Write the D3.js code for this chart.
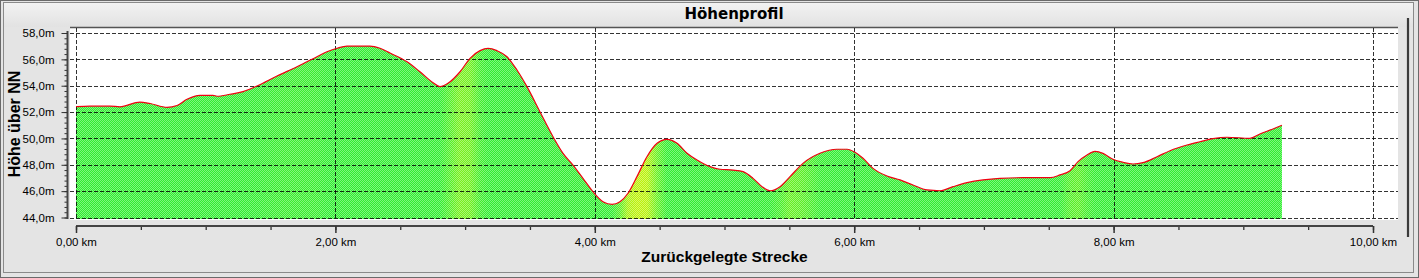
<!DOCTYPE html>
<html><head><meta charset="utf-8">
<script src="https://cdn.jsdelivr.net/npm/d3@7"></script>
<style>
html,body{margin:0;padding:0;background:#e4e4e4;}
svg{display:block;}
</style></head>
<body>
<svg id="chart" width="1419" height="278"></svg>
<script>
// ---- data (distance in km, elevation in m) ----
const distanceKm = [0.00,0.108,0.262,0.339,0.493,0.571,0.702,0.779,0.856,0.956,1.056,1.087,1.187,1.288,1.396,1.550,1.704,1.858,1.935,2.012,2.089,2.267,2.344,2.421,2.552,2.652,2.753,2.806,2.868,2.961,3.038,3.115,3.177,3.246,3.323,3.400,3.477,3.577,3.678,3.755,3.832,3.909,3.986,4.063,4.133,4.194,4.256,4.325,4.402,4.480,4.557,4.634,4.711,4.788,4.888,4.965,5.066,5.143,5.220,5.289,5.351,5.428,5.505,5.605,5.736,5.867,5.945,6.006,6.068,6.145,6.253,6.353,6.453,6.561,6.662,6.762,6.870,6.993,7.124,7.301,7.510,7.587,7.664,7.726,7.795,7.857,7.918,7.995,8.072,8.150,8.227,8.335,8.435,8.566,8.666,8.766,8.874,9.051,9.128,9.229,9.298];
const elevationM = [52.41,52.45,52.45,52.40,52.76,52.65,52.36,52.50,52.97,53.27,53.27,53.20,53.35,53.55,53.98,54.74,55.44,56.20,56.58,56.84,57.01,57.01,56.84,56.48,55.82,55.06,54.23,53.93,54.18,55.06,56.08,56.66,56.84,56.66,56.20,55.19,53.93,52.03,50.13,48.87,47.98,46.97,45.96,45.20,45.00,45.20,45.84,47.10,48.61,49.63,49.93,49.63,48.87,48.36,47.86,47.66,47.60,47.48,46.97,46.34,46.03,46.34,47.10,48.11,48.87,49.18,49.18,48.95,48.49,47.73,47.15,46.85,46.47,46.09,46.03,46.34,46.64,46.85,46.97,47.02,47.02,47.23,47.55,48.24,48.74,49.02,48.87,48.42,48.19,48.06,48.16,48.61,49.07,49.50,49.75,49.98,50.09,50.01,50.34,50.72,51.00];
const xTickValues = [0,2,4,6,8,10];
const xTickLabels = ["0,00 km","2,00 km","4,00 km","6,00 km","8,00 km","10,00 km"];
const yTickValues = [44,46,48,50,52,54,56,58];
const yTickLabels = ["44,0m","46,0m","48,0m","50,0m","52,0m","54,0m","56,0m","58,0m"];
const chartTitle = "Höhenprofil";
const xTitle = "Zurückgelegte Strecke";
const yTitle = "Höhe über NN";

const W = 1419, H = 278;
const svg = d3.select("#chart");
const data = distanceKm.map((d,i)=>({d, e: elevationM[i]}));

const frame = {l:70, t:28, r:1398, b:220};
const x = d3.scaleLinear().domain([0,10]).range([76,1373]);
const y = d3.scaleLinear().domain([44,58]).range([217.5,33]);

const defs = svg.append("defs");
const tg = defs.append("linearGradient").attr("id","tbar").attr("x1",0).attr("x2",0).attr("y1",0).attr("y2",1);
tg.append("stop").attr("offset","0%").attr("stop-color","#f2f2f2");
tg.append("stop").attr("offset","100%").attr("stop-color","#e2e2e2");

// background + borders
svg.append("rect").attr("x",0).attr("y",0).attr("width",W).attr("height",H).attr("fill","#e4e4e4");
svg.append("rect").attr("x",4).attr("y",3).attr("width",1410).attr("height",24).attr("fill","url(#tbar)");
svg.append("rect").attr("x",0.5).attr("y",0.5).attr("width",W-1).attr("height",H-1).attr("fill","none").attr("stroke","#6a6a6a");
svg.append("rect").attr("x",3.5).attr("y",2.5).attr("width",1410).attr("height",270).attr("fill","none").attr("stroke","#8a8a8a");

// plot frame
svg.append("rect").attr("x",frame.l).attr("y",frame.t).attr("width",frame.r-frame.l).attr("height",frame.b-frame.t).attr("fill","#ffffff");
svg.append("line").attr("x1",frame.l).attr("x2",frame.r).attr("y1",frame.t-0.5).attr("y2",frame.t-0.5).attr("stroke","#555").attr("stroke-width",1.5);

// slope-based fill gradient
const slopes = data.map((p,i)=>{
  const a = data[Math.max(0,i-1)], b = data[Math.min(data.length-1,i+1)];
  return (b.e-a.e)/((b.d-a.d)||1);
});
const smooth = slopes.map((s,i)=>{
  let sum=0,n=0; for(let k=-1;k<=1;k++){const j=i+k; if(j>=0&&j<slopes.length){sum+=slopes[j];n++;}}
  return sum/n;
});
const col = d3.interpolateRgb("#30ee30","#bef20a");
const fg = defs.append("linearGradient").attr("id","fillg").attr("gradientUnits","userSpaceOnUse")
  .attr("x1",x(distanceKm[0])).attr("x2",x(distanceKm[distanceKm.length-1])).attr("y1",0).attr("y2",0);
const x0 = distanceKm[0], x1 = distanceKm[distanceKm.length-1];
data.forEach((p,i)=>{
  const t = Math.max(0,Math.min(1,(smooth[i]-4)/11));
  fg.append("stop").attr("offset",((p.d-x0)/(x1-x0)*100)+"%").attr("stop-color",col(t));
});
const pat = defs.append("pattern").attr("id","checker").attr("patternUnits","userSpaceOnUse").attr("width",2).attr("height",2);
pat.append("rect").attr("x",0).attr("y",0).attr("width",1).attr("height",1).attr("fill","#fff").attr("fill-opacity",0.38);
pat.append("rect").attr("x",1).attr("y",1).attr("width",1).attr("height",1).attr("fill","#fff").attr("fill-opacity",0.38);

const area = d3.area().x(p=>x(p.d)).y0(frame.b-1).y1(p=>y(p.e)).curve(d3.curveMonotoneX);
const line = d3.line().x(p=>x(p.d)).y(p=>y(p.e)).curve(d3.curveMonotoneX);
svg.append("path").datum(data).attr("d",area).attr("fill","url(#fillg)");
svg.append("path").datum(data).attr("d",area).attr("fill","url(#checker)").attr("shape-rendering","crispEdges");

// grid lines
const grid = svg.append("g").attr("stroke","#000").attr("stroke-opacity",0.8).attr("stroke-width",1).attr("stroke-dasharray","4,2");
yTickValues.forEach(v=>{
  grid.append("line").attr("x1",frame.l).attr("x2",frame.r).attr("y1",Math.round(y(v))+0.5).attr("y2",Math.round(y(v))+0.5);
});
xTickValues.forEach(v=>{
  grid.append("line").attr("x1",Math.round(x(v))+0.5).attr("x2",Math.round(x(v))+0.5).attr("y1",frame.t).attr("y2",frame.b);
});

// profile line
svg.append("path").datum(data).attr("d",line).attr("fill","none").attr("stroke","#f00010").attr("stroke-width",1.2);

// y axis
const yAxisX = 67.5;
const yMinor = d3.range(44,58.001,0.4);
svg.append("g").attr("transform",`translate(${yAxisX},0)`)
  .call(d3.axisLeft(y).tickValues(yMinor).tickSize(3).tickFormat(""))
  .call(g=>g.select(".domain").remove())
  .call(g=>g.selectAll("line").attr("stroke","#333"));
const yAx = svg.append("g").attr("transform",`translate(${yAxisX},0)`)
  .call(d3.axisLeft(y).tickValues(yTickValues).tickSize(6).tickPadding(7).tickFormat((d,i)=>yTickLabels[i]));
yAx.attr("font-family","Liberation Sans, Arial, sans-serif").attr("font-size",11.5);
yAx.select(".domain").attr("d",`M0,${y(58)-2}V${frame.b-1}`).attr("stroke","#444").attr("stroke-width",2);
yAx.selectAll("line").attr("stroke","#333");
yAx.selectAll("text").attr("fill","#000");

// x axis
const xAxisY = 226;
svg.append("g").attr("transform",`translate(0,${xAxisY})`)
  .call(d3.axisBottom(x).tickValues(d3.range(0,10.001,0.5)).tickSize(4).tickFormat(""))
  .call(g=>g.select(".domain").remove())
  .call(g=>g.selectAll("line").attr("stroke","#333").attr("stroke-width",1.3));
const xAx = svg.append("g").attr("transform",`translate(0,${xAxisY})`)
  .call(d3.axisBottom(x).tickValues(xTickValues).tickSize(7).tickPadding(5).tickFormat((d,i)=>xTickLabels[i]));
xAx.attr("font-family","Liberation Sans, Arial, sans-serif").attr("font-size",11.5);
xAx.select(".domain").attr("d",`M${x(0)},0H${x(10)}`).attr("stroke","#444").attr("stroke-width",2);
xAx.selectAll("line").attr("stroke","#333").attr("stroke-width",1.5);
xAx.selectAll("text").attr("fill","#000");

// titles
svg.append("text").attr("x",(frame.l+frame.r)/2).attr("y",19).attr("text-anchor","middle")
  .attr("font-family","DejaVu Sans, sans-serif").attr("font-size",15).attr("font-weight","bold").attr("fill","#000").text(chartTitle);
svg.append("text").attr("x",(x(0)+x(10))/2).attr("y",262).attr("text-anchor","middle")
  .attr("font-family","Liberation Sans, Arial, sans-serif").attr("font-size",15.5).attr("font-weight","bold").attr("fill","#000").text(xTitle);
svg.append("text").attr("transform",`translate(20,${(frame.t+frame.b)/2}) rotate(-90)`).attr("text-anchor","middle")
  .attr("font-family","Liberation Sans, Arial, sans-serif").attr("font-size",16).attr("font-weight","bold").attr("fill","#000").text(yTitle);

// right side scroll bar
svg.append("line").attr("x1",1408).attr("x2",1408).attr("y1",18).attr("y2",237).attr("stroke","#3a3a3a").attr("stroke-width",2.2);
</script>
</body></html>
